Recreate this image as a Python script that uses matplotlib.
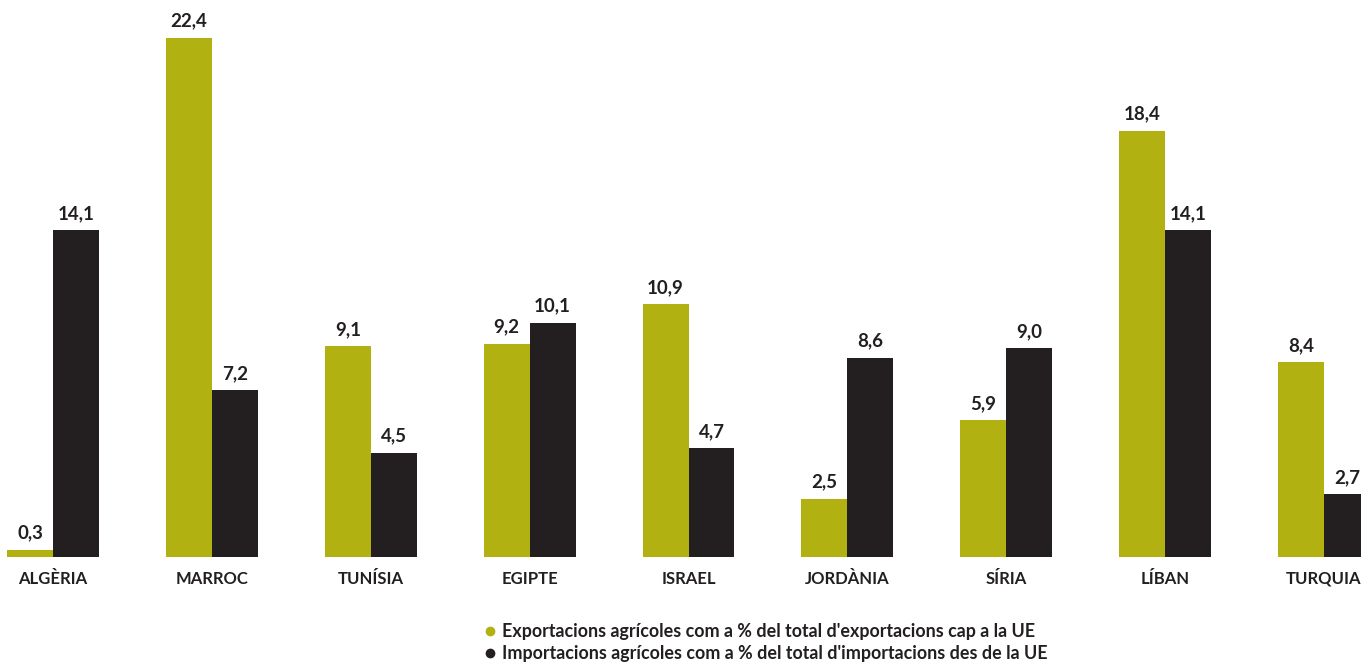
import matplotlib
matplotlib.use("Agg")
import matplotlib.pyplot as plt
from matplotlib.lines import Line2D
import numpy as np

countries = ["ALGÈRIA", "MARROC", "TUNÍSIA", "EGIPTE", "ISRAEL", "JORDÀNIA", "SÍRIA", "LÍBAN", "TURQUIA"]
exports = [0.3, 22.4, 9.1, 9.2, 10.9, 2.5, 5.9, 18.4, 8.4]
imports = [14.1, 7.2, 4.5, 10.1, 4.7, 8.6, 9.0, 14.1, 2.7]
legend_labels = ["Exportacions agrícoles com a % del total d'exportacions cap a la UE",
                 "Importacions agrícoles com a % del total d'importacions des de la UE"]

GREEN = "#b2b112"
DARK = "#231f20"
TEXT = "#231f20"

plt.rcParams['font.family'] = ['Lato', 'DejaVu Sans']

W, H = 1361, 663
fig = plt.figure(figsize=(W / 100, H / 100), dpi=100)
ax_bottom = (H - 557) / H
ax = fig.add_axes([0, ax_bottom, 1, 1 - ax_bottom])

x = np.arange(len(countries))
bw = 46 / 158.875
b1 = ax.bar(x - bw / 2, exports, width=bw, color=GREEN, linewidth=0)
b2 = ax.bar(x + bw / 2, imports, width=bw, color=DARK, linewidth=0)

fmt = lambda v: f"{v:.1f}".replace(".", ",")
for bars, vals in ((b1, exports), (b2, imports)):
    ax.bar_label(bars, labels=[fmt(v) for v in vals], padding=6,
                 fontsize=13.5, fontweight='bold', color=TEXT)

ax.set_xlim(-53 / 158.875, (W - 53) / 158.875)
ax.set_ylim(0, 557 / 23.17)
ax.set_xticks(x)
ax.set_xticklabels(countries, fontsize=12, fontweight='bold', color=TEXT)
ax.tick_params(axis='x', length=0, pad=10)
ax.set_yticks([])
for s in ax.spines.values():
    s.set_visible(False)

handles = [Line2D([], [], marker='o', linestyle='none', markersize=6, color=GREEN),
           Line2D([], [], marker='o', linestyle='none', markersize=6, color=DARK)]
fig.legend(handles, legend_labels, loc='upper left', bbox_to_anchor=(472 / W, 1 - 614 / H),
           frameon=False, handletextpad=0.2, handlelength=1.0,
           labelspacing=0.3, borderpad=0, labelcolor=TEXT,
           prop={'weight': 'bold', 'size': 12.9})

fig.savefig("out.png", dpi=100)
